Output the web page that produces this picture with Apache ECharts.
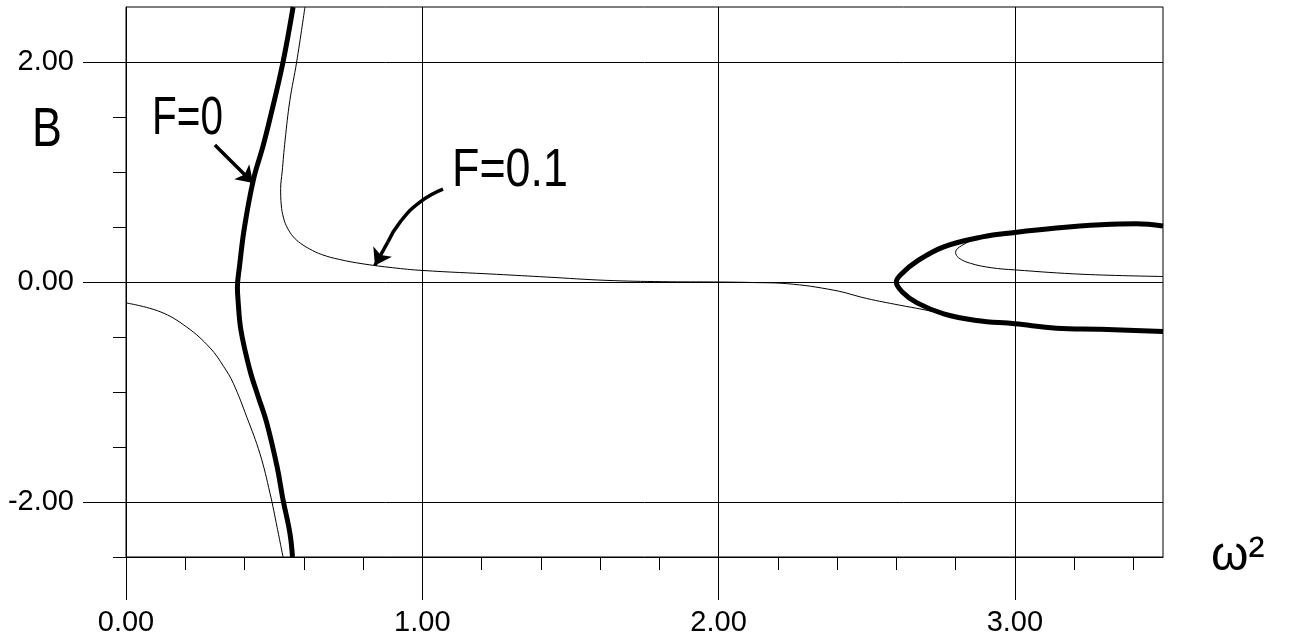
<!DOCTYPE html>
<html>
<head>
<meta charset="utf-8">
<script src="https://cdn.jsdelivr.net/npm/echarts@6/dist/echarts.min.js"></script>
<style>
  html, body { margin: 0; padding: 0; background: #fff; }
  #main { width: 1289px; height: 643px; }
</style>
</head>
<body>
<div id="main"></div>
<script>
// tick positions
var xMajor = [0, 1, 2, 3];
var xMinor = [0.2, 0.4, 0.6, 0.8, 1.2, 1.4, 1.6, 1.8, 2.2, 2.4, 2.6, 2.8, 3.2, 3.4];
var yMajor = [-2, 0, 2];
var yMinor = [-2.5, -1.5, -1, -0.5, 0.5, 1, 1.5];

// F=0 (thick) : near-vertical branch
var f0Left = [[0.564, 2.5], [0.53, 2.0], [0.49, 1.53], [0.462, 1.23], [0.43, 0.93], [0.40, 0.5],
  [0.383, 0.14], [0.376, -0.05], [0.378, -0.16], [0.388, -0.44], [0.418, -0.8], [0.446, -1.04],
  [0.475, -1.28], [0.51, -1.68], [0.53, -1.98], [0.553, -2.28], [0.562, -2.5]];
// F=0 (thick) : loop on the right
var f0Right = [[3.5, 0.51], [3.41, 0.53], [3.29, 0.52], [3.14, 0.49], [3.0, 0.45], [2.89, 0.41],
  [2.76, 0.32], [2.67, 0.19], [2.62, 0.08], [2.60, 0], [2.62, -0.09], [2.67, -0.19], [2.76, -0.29],
  [2.87, -0.35], [3.0, -0.38], [3.14, -0.42], [3.29, -0.43], [3.5, -0.45]];
// F=0.1 (thin)
var f1Upper = [[0.604, 2.5], [0.576, 2.0], [0.553, 1.65], [0.537, 1.29], [0.527, 1.0], [0.522, 0.85],
  [0.524, 0.7], [0.532, 0.58], [0.545, 0.49], [0.565, 0.41], [0.59, 0.35], [0.62, 0.3], [0.66, 0.25],
  [0.72, 0.205], [0.8, 0.165], [0.9, 0.13], [1.0, 0.105],
  [1.25, 0.07], [1.42, 0.045], [1.62, 0.015], [1.81, 0.003], [2.0, 0], [2.12, -0.005], [2.23, -0.015],
  [2.39, -0.075], [2.5, -0.15], [2.61, -0.21], [2.69, -0.25], [2.76, -0.29], [2.87, -0.35], [3.0, -0.38],
  [3.14, -0.42], [3.29, -0.43], [3.5, -0.45]];
var f1Lower = [[0, -0.19], [0.115, -0.27], [0.205, -0.41], [0.284, -0.6], [0.33, -0.77], [0.362, -0.92],
  [0.408, -1.23], [0.452, -1.56], [0.486, -1.92], [0.51, -2.23], [0.53, -2.5]];
var f1Loop = [[3.5, 0.52], [3.2, 0.50], [3.0, 0.45], [2.88, 0.40], [2.82, 0.33], [2.80, 0.27],
  [2.81, 0.22], [2.85, 0.17], [2.92, 0.13], [3.0, 0.11], [3.23, 0.07], [3.5, 0.05]];

// annotation arrows in data units
var arrowF0 = [[0.30, 1.245], [0.429, 0.9]];
var arcF1 = [[1.07, 0.845], [0.992, 0.727], [0.925, 0.545], [0.884, 0.364]];
var arrowF1 = [[0.884, 0.364], [0.84, 0.15]];

var font = 'Liberation Sans, Arial, sans-serif';
var myChart = echarts.init(document.getElementById('main'));

function thin(data) {
  return { type: 'line', data: data, showSymbol: false, smooth: 0.4, clip: true,
    lineStyle: { color: '#000', width: 1 }, z: 3 };
}
function thick(data) {
  return { type: 'line', data: data, showSymbol: false, smooth: 0.4, clip: true,
    lineStyle: { color: '#000', width: 5 }, z: 4 };
}
function arrowLine(a) {
  return {
    silent: true, symbol: ['none', 'arrow'], symbolSize: 16,
    label: { show: false },
    lineStyle: { color: '#000', width: 3.5, type: 'solid' },
    data: [[{ coord: a[0] }, { coord: a[1] }]]
  };
}

var s0 = thick(f0Left);
s0.markLine = arrowLine(arrowF0);
var arc = { type: 'line', data: arcF1, showSymbol: false, smooth: 0.5, silent: true,
  lineStyle: { color: '#000', width: 3.5 }, z: 5 };
arc.markLine = arrowLine(arrowF1);

myChart.setOption({
  animation: false,
  backgroundColor: '#fff',
  grid: { left: 126, right: 126, top: 7, bottom: 86, show: true, borderColor: '#000', borderWidth: 1 },
  xAxis: [{
    type: 'value', min: 0, max: 3.5, interval: 1, position: 'bottom',
    axisLine: { show: true, onZero: false, lineStyle: { color: '#000', width: 1 } },
    axisTick: { show: true, length: 43, customValues: xMajor, lineStyle: { color: '#000' } },
    axisLabel: { customValues: xMajor, margin: 51, fontSize: 29, color: '#000', fontFamily: font,
      formatter: function (v) { return v.toFixed(2); } },
    splitLine: { show: true, lineStyle: { color: '#000', width: 1 } },
    name: 'ω²', nameLocation: 'end', nameGap: 48,
    nameTextStyle: { fontSize: 48, color: '#000', fontFamily: font, padding: [14, 0, 0, 0] }
  }, {
    type: 'value', min: 0, max: 3.5, interval: 0.5, position: 'bottom',
    axisLine: { show: false, onZero: false },
    axisTick: { show: true, length: 13, customValues: xMinor, lineStyle: { color: '#000' } },
    axisLabel: { show: false },
    splitLine: { show: false }
  }],
  yAxis: [{
    type: 'value', min: -2.5, max: 2.5, interval: 0.5, position: 'left',
    axisLine: { show: true, onZero: false, lineStyle: { color: '#000', width: 1 } },
    axisTick: { show: true, length: 43, customValues: yMajor, lineStyle: { color: '#000' } },
    axisLabel: { customValues: yMajor, margin: 52, fontSize: 29, color: '#000', fontFamily: font,
      formatter: function (v) { return v.toFixed(2); } },
    splitLine: { show: true, lineStyle: { color: '#000', width: 1 } }
  }, {
    type: 'value', min: -2.5, max: 2.5, interval: 0.5, position: 'left',
    axisLine: { show: false, onZero: false },
    axisTick: { show: true, length: 13, customValues: yMinor, lineStyle: { color: '#000' } },
    axisLabel: { show: false },
    splitLine: { show: false }
  }],
  graphic: [
    { type: 'text', x: 32, y: 103, scaleX: 0.8,
      style: { text: 'B', fontSize: 56, fill: '#000', fontFamily: font } },
    { type: 'text', x: 152, y: 92, scaleX: 0.75,
      style: { text: 'F=0', fontSize: 54, fill: '#000', fontFamily: font } },
    { type: 'text', x: 452, y: 144, scaleX: 0.83,
      style: { text: 'F=0.1', fontSize: 54, fill: '#000', fontFamily: font } }
  ],
  series: [s0, thick(f0Right), thin(f1Upper), thin(f1Lower), thin(f1Loop), arc]
});
</script>
</body>
</html>
